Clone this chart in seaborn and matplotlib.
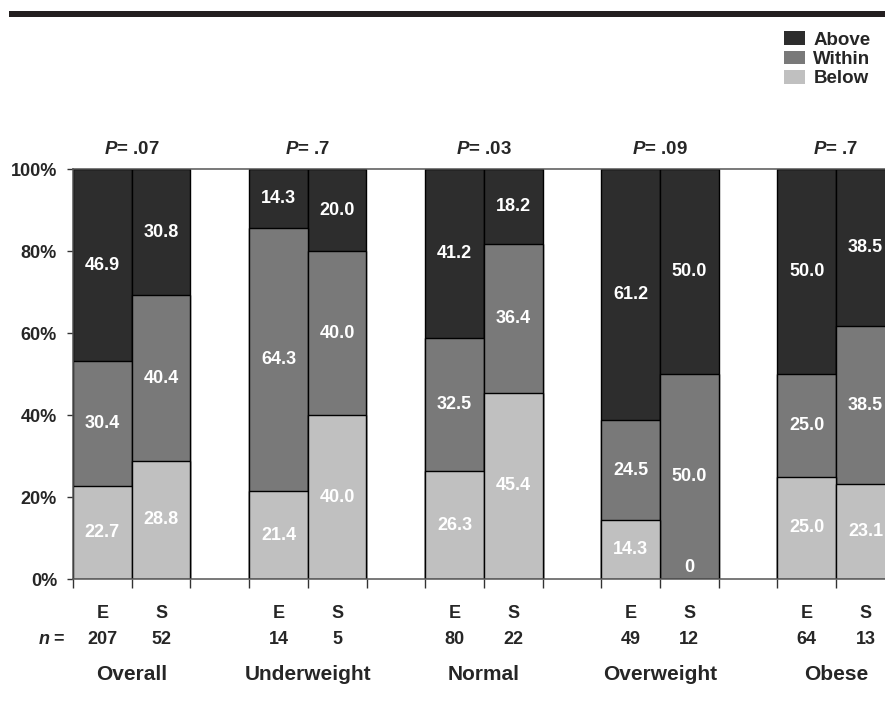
import matplotlib
matplotlib.use("Agg")
import matplotlib.pyplot as plt
from matplotlib.patches import Patch, Rectangle
import seaborn as sns
import pandas as pd
import numpy as np

# ---------------- data ----------------
groups = ["Overall", "Underweight", "Normal", "Overweight", "Obese"]
arms = ["E", "S"]
n_E = [207, 14, 80, 49, 64]
n_S = [52, 5, 22, 12, 13]
below_E = [22.7, 21.4, 26.3, 14.3, 25.0]
within_E = [30.4, 64.3, 32.5, 24.5, 25.0]
above_E = [46.9, 14.3, 41.2, 61.2, 50.0]
below_S = [28.8, 40.0, 45.4, 0.0, 23.1]
within_S = [40.4, 40.0, 36.4, 50.0, 38.5]
above_S = [30.8, 20.0, 18.2, 50.0, 38.5]
p_values = [".07", ".7", ".03", ".09", ".7"]
levels = ["Above", "Within", "Below"]
y_ticks = [0, 20, 40, 60, 80, 100]

colors = {"Above": "#2d2d2d", "Within": "#797979", "Below": "#c0c0c0"}

# ---------------- style ----------------
sns.set_theme(style="white")
plt.rcParams["font.family"] = ["Liberation Sans", "DejaVu Sans"]
plt.rcParams["font.weight"] = "bold"
plt.rcParams["mathtext.fontset"] = "custom"
plt.rcParams["mathtext.it"] = "Liberation Sans:italic:bold"
plt.rcParams["mathtext.rm"] = "Liberation Sans:bold"

# ---------------- build table ----------------
rows = []
order = []
for gi, g in enumerate(groups):
    vals = {
        "E": (below_E[gi], within_E[gi], above_E[gi], n_E[gi]),
        "S": (below_S[gi], within_S[gi], above_S[gi], n_S[gi]),
    }
    for a in arms:
        b, w, ab, n = vals[a]
        key = f"{g}|{a}"
        order.append(key)
        rows.append(dict(bar=key, group=g, arm=a, n=n,
                         Below=b, Within=w, Above=ab))
    if gi < len(groups) - 1:
        order.append(" " * (gi + 1))
df = pd.DataFrame(rows)
df["top_Below"] = df["Below"]
df["top_Within"] = df["Below"] + df["Within"]
df["top_Above"] = df["Below"] + df["Within"] + df["Above"]

# ---------------- figure ----------------
W, H = 885, 710
fig = plt.figure(figsize=(W / 100, H / 100), dpi=100)
ax_left, ax_right = 73, 885
ax_bottom, ax_top = 579, 169
ax = fig.add_axes([ax_left / W, 1 - ax_bottom / H,
                   (ax_right - ax_left) / W, (ax_bottom - ax_top) / H])

for lev in ["Above", "Within", "Below"]:
    sns.barplot(data=df, x="bar", y=f"top_{lev}", order=order,
                color=colors[lev], saturation=1, width=1.0,
                edgecolor="black", linewidth=1.0, ax=ax, errorbar=None)

slot = 58.7
xmax = -0.5 + (ax_right - ax_left) / slot
ax.set_yticks(y_ticks)
ax.set_yticklabels([f"{t}%" for t in y_ticks], fontsize=13, fontweight="bold")
ax.set_xticks(np.arange(-0.5, xmax, 1.0))
ax.set_xticklabels([])
ax.set_xlim(-0.5, xmax)
ax.set_ylim(0, 100)
ax.set_xlabel("")
ax.set_ylabel("")

ax.tick_params(axis="y", direction="out", length=4.5, width=1, color="#333333", pad=7)
ax.tick_params(axis="x", direction="out", length=6.5, width=1, color="#333333")
ax.tick_params(left=True, bottom=True)
for s in ["left", "bottom", "top"]:
    ax.spines[s].set_visible(True)
    ax.spines[s].set_color("#555555")
    ax.spines[s].set_linewidth(1.1)
ax.spines["right"].set_visible(False)

# value labels
pos = {k: i for i, k in enumerate(order)}
for _, r in df.iterrows():
    x = pos[r["bar"]]
    base = 0.0
    for lev in ["Below", "Within", "Above"]:
        v = r[lev]
        mid = base + v / 2
        txt = f"{v:.1f}" if v > 0 else "0"
        ax.text(x, max(mid, 2.9), txt, ha="center", va="center",
                color="white", fontsize=13, fontweight="bold")
        base += v

# labels under / above bars
tr = ax.get_xaxis_transform()
hh = ax_bottom - ax_top
for _, r in df.iterrows():
    x = pos[r["bar"]]
    ax.text(x, (ax_bottom - 613) / hh, r["arm"], transform=tr,
            ha="center", va="center", fontsize=13, fontweight="bold", clip_on=False)
    ax.text(x, (ax_bottom - 639) / hh, str(r["n"]), transform=tr,
            ha="center", va="center", fontsize=13, fontweight="bold", clip_on=False)
for gi, g in enumerate(groups):
    xc = (pos[f"{g}|E"] + pos[f"{g}|S"]) / 2
    ax.text(xc, (ax_bottom - 675) / hh, g, transform=tr,
            ha="center", va="center", fontsize=15, fontweight="bold", clip_on=False)
    ax.text(xc, (ax_bottom - 150) / hh,
            r"$\mathit{P}$" + "= " + p_values[gi], transform=tr,
            ha="center", va="center", fontsize=13.5, fontweight="bold", clip_on=False)

fig.text(66 / W, 1 - 639 / H, r"$\mathit{n}$" + " =", ha="right", va="center",
         fontsize=13, fontweight="bold")

# top rule
fig.add_artist(Rectangle((9 / W, 1 - 17 / H), 1 - 9 / W, 6 / H,
                         transform=fig.transFigure, facecolor="#231f20",
                         edgecolor="none"))

# legend
handles = [Patch(facecolor=colors[l], edgecolor="none", label=l) for l in levels]
fig.legend(handles=handles, loc="upper left",
           bbox_to_anchor=(775 / W, 1 - 22 / H), frameon=False,
           handlelength=1.1, handleheight=0.75,
           handletextpad=0.45, labelspacing=0.1, borderpad=0,
           prop={"weight": "bold", "size": 13.5})

fig.savefig("out.png", dpi=100)
